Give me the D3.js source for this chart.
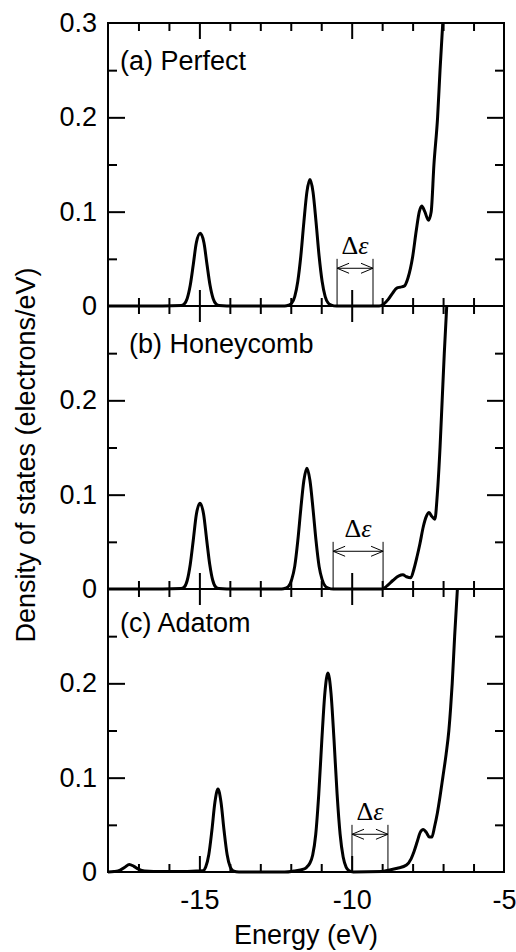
<!DOCTYPE html>
<html><head><meta charset="utf-8">
<script src="https://cdn.jsdelivr.net/npm/d3@7"></script>
<style>html,body{margin:0;padding:0;background:#fff}</style>
</head><body>
<script>
// ---- data (energy eV, DOS electrons/eV) ----
const perfect = [
  [-18,0],[-16.2,0],[-15.6,0.0005],[-15.5,0.002],[-15.4,0.008],[-15.3,0.022],[-15.2,0.044],[-15.1,0.067],[-14.97,0.077],[-14.85,0.067],[-14.75,0.044],[-14.65,0.022],[-14.55,0.008],[-14.45,0.002],[-14.35,0.0005],[-14.1,0],
  [-12.2,0],[-12.07,0.001],[-11.97,0.003],[-11.87,0.010],[-11.77,0.026],[-11.67,0.053],[-11.57,0.089],[-11.47,0.121],[-11.37,0.134],[-11.27,0.121],[-11.17,0.089],[-11.07,0.053],[-10.97,0.026],[-10.87,0.010],[-10.77,0.003],[-10.67,0.001],[-10.5,0],
  [-9.1,0],[-8.95,0.002],[-8.8,0.007],[-8.65,0.014],[-8.52,0.019],[-8.4,0.020],[-8.28,0.021],[-8.15,0.030],[-8.0,0.052],[-7.88,0.080],[-7.78,0.100],[-7.70,0.106],[-7.6,0.100],[-7.48,0.091],[-7.39,0.100],[-7.30,0.150],[-7.18,0.200],[-7.10,0.250],[-7.01,0.300]
];
const honeycomb = [
  [-18,0],[-16.2,0],[-15.6,0.0005],[-15.5,0.002],[-15.4,0.009],[-15.3,0.026],[-15.2,0.052],[-15.1,0.079],[-14.98,0.091],[-14.86,0.079],[-14.76,0.052],[-14.66,0.026],[-14.56,0.009],[-14.46,0.002],[-14.36,0.0005],[-14.1,0],
  [-12.3,0],[-12.17,0.001],[-12.07,0.003],[-11.97,0.010],[-11.87,0.024],[-11.77,0.051],[-11.67,0.085],[-11.57,0.115],[-11.47,0.128],[-11.37,0.115],[-11.27,0.085],[-11.17,0.051],[-11.07,0.024],[-10.97,0.010],[-10.87,0.003],[-10.77,0.001],[-10.6,0],
  [-9.0,0],[-8.85,0.003],[-8.65,0.009],[-8.45,0.014],[-8.32,0.015],[-8.2,0.013],[-8.06,0.012],[-7.95,0.022],[-7.85,0.035],[-7.76,0.048],[-7.65,0.066],[-7.55,0.077],[-7.46,0.081],[-7.37,0.077],[-7.27,0.074],[-7.19,0.100],[-7.10,0.150],[-7.03,0.200],[-6.96,0.250],[-6.88,0.300]
];
const adatom = [
  [-18,0],[-17.8,0.0005],[-17.6,0.002],[-17.45,0.005],[-17.3,0.008],[-17.15,0.006],[-17.0,0.003],[-16.8,0.001],[-16.5,0.0005],[-15.5,0.0005],[-15.1,0.001],[-14.89,0.0012],[-14.79,0.0055],[-14.69,0.0186],[-14.59,0.044],[-14.49,0.074],[-14.39,0.088],[-14.29,0.074],[-14.19,0.044],[-14.09,0.0186],[-13.99,0.0055],[-13.89,0.0012],[-13.7,0],
  [-12.2,0],[-11.9,0.001],[-11.58,0.003],[-11.48,0.005],[-11.38,0.009],[-11.28,0.018],[-11.18,0.040],[-11.08,0.083],[-10.98,0.140],[-10.88,0.190],[-10.78,0.211],[-10.68,0.190],[-10.58,0.140],[-10.48,0.083],[-10.38,0.040],[-10.28,0.016],[-10.18,0.005],[-10.08,0.0013],[-9.95,0],
  [-9.0,0.0005],[-8.8,0.002],[-8.5,0.004],[-8.2,0.0075],[-8.05,0.014],[-7.95,0.022],[-7.85,0.032],[-7.75,0.042],[-7.65,0.045],[-7.55,0.042],[-7.45,0.037],[-7.37,0.037],[-7.28,0.048],[-7.19,0.062],[-7.10,0.080],[-7.01,0.100],[-6.90,0.125],[-6.81,0.150],[-6.75,0.175],[-6.70,0.200],[-6.62,0.250],[-6.53,0.300]
];
const panelSeries = [perfect, honeycomb, adatom];
const panelNames = ["(a) Perfect", "(b) Honeycomb", "(c) Adatom"];
const gapEdges = [[-10.48, -9.30], [-10.61, -8.97], [-9.99, -8.81]];
const xMajorTicks = [-15, -10];
const xMinorTicks = [-17, -16, -14, -13, -12, -11, -9, -8, -7, -6];
const xTickLabels = [-15, -10, -5];
const yMajorTicks = [0.1, 0.2];
const yMinorTicks = [0.05, 0.15, 0.25];
const yTickLabelsTop = [0, 0.1, 0.2, 0.3];
const yTickLabelsOther = [0, 0.1, 0.2];

// ---- layout ----
const W = 516, H = 952;
const left = 108, right = 504, top0 = 23, ph = 283;
const labelX = [120, 129, 120], labelDy = [47, 47, 43];
const SANS = "'Liberation Sans', Arial, Helvetica, sans-serif";
const FS = 27;

const svg = d3.select("body").append("svg").attr("width", W).attr("height", H);
const x = d3.scaleLinear().domain([-18, -5]).range([left, right]);
const yFmt = d => d === 0 ? "0" : d.toFixed(1);

function ticksOnly(sel) {
  sel.select(".domain").remove();
  sel.selectAll("text").remove();
  sel.selectAll("line").attr("stroke", "#000").attr("stroke-width", 2);
}
function labelsOnly(sel) {
  sel.select(".domain").remove();
  sel.selectAll("line").remove();
  sel.attr("font-family", SANS).attr("font-size", FS);
  sel.selectAll("text").attr("fill", "#000");
}

panelSeries.forEach((data, i) => {
  const top = top0 + i * ph, bot = top + ph;
  const y = d3.scaleLinear().domain([0, 0.3]).range([bot, top]);
  const g = svg.append("g");

  g.append("clipPath").attr("id", "clip" + i)
    .append("rect").attr("x", left).attr("y", top).attr("width", right - left).attr("height", ph + 6);

  // axes ticks (inward)
  g.append("g").attr("transform", `translate(0,${bot})`)
    .call(d3.axisBottom(x).tickValues(xMinorTicks).tickSizeInner(-8).tickSizeOuter(0)).call(ticksOnly);
  g.append("g").attr("transform", `translate(0,${bot})`)
    .call(d3.axisBottom(x).tickValues(xMajorTicks).tickSizeInner(-16).tickSizeOuter(0)).call(ticksOnly);
  g.append("g").attr("transform", `translate(0,${top})`)
    .call(d3.axisTop(x).tickValues(xMinorTicks).tickSizeInner(-8).tickSizeOuter(0)).call(ticksOnly);
  g.append("g").attr("transform", `translate(0,${top})`)
    .call(d3.axisTop(x).tickValues(xMajorTicks).tickSizeInner(-16).tickSizeOuter(0)).call(ticksOnly);
  g.append("g").attr("transform", `translate(${left},0)`)
    .call(d3.axisLeft(y).tickValues(yMinorTicks).tickSizeInner(-9).tickSizeOuter(0)).call(ticksOnly);
  g.append("g").attr("transform", `translate(${left},0)`)
    .call(d3.axisLeft(y).tickValues(yMajorTicks).tickSizeInner(-17).tickSizeOuter(0)).call(ticksOnly);
  g.append("g").attr("transform", `translate(${right},0)`)
    .call(d3.axisRight(y).tickValues(yMinorTicks).tickSizeInner(-9).tickSizeOuter(0)).call(ticksOnly);
  g.append("g").attr("transform", `translate(${right},0)`)
    .call(d3.axisRight(y).tickValues(yMajorTicks).tickSizeInner(-17).tickSizeOuter(0)).call(ticksOnly);

  // y tick labels
  g.append("g").attr("transform", `translate(${left},0)`)
    .call(d3.axisLeft(y).tickValues(i === 0 ? yTickLabelsTop : yTickLabelsOther).tickSize(0).tickPadding(11).tickFormat(yFmt))
    .call(labelsOnly);

  // frame
  g.append("rect").attr("x", left).attr("y", top).attr("width", right - left).attr("height", ph)
    .attr("fill", "none").attr("stroke", "#000").attr("stroke-width", 2);

  // DOS curve
  g.append("path").datum(data)
    .attr("d", d3.line().x(d => x(d[0])).y(d => y(d[1])).curve(d3.curveMonotoneX))
    .attr("fill", "none").attr("stroke", "#000").attr("stroke-width", 3)
    .attr("stroke-linejoin", "round").attr("clip-path", `url(#clip${i})`);

  // gap annotation
  const [e1, e2] = gapEdges[i];
  const x1 = x(e1), x2 = x(e2), ya = y(0.04);
  const ann = g.append("g").attr("stroke", "#000").attr("stroke-width", 1).attr("fill", "none");
  [x1, x2].forEach(xx => ann.append("line").attr("x1", xx).attr("x2", xx).attr("y1", y(0)).attr("y2", y(0.05)));
  ann.append("line").attr("x1", x1).attr("x2", x2).attr("y1", ya).attr("y2", ya);
  ann.append("path").attr("d", `M${x1 + 12},${ya - 5}L${x1},${ya}L${x1 + 12},${ya + 5}`);
  ann.append("path").attr("d", `M${x2 - 12},${ya - 5}L${x2},${ya}L${x2 - 12},${ya + 5}`);
  const t = g.append("text").attr("x", (x1 + x2) / 2).attr("y", y(0.055))
    .attr("text-anchor", "middle").attr("font-family", "'Liberation Serif', 'Times New Roman', serif")
    .attr("font-size", 26).attr("fill", "#000");
  t.append("tspan").text("Δ");
  t.append("tspan").attr("font-style", "italic").text("ε");

  // panel label
  g.append("text").attr("x", labelX[i]).attr("y", top + labelDy[i])
    .attr("font-family", SANS).attr("font-size", FS).attr("fill", "#000").text(panelNames[i]);

  if (i === 2) {
    g.append("g").attr("transform", `translate(0,${bot})`)
      .call(d3.axisBottom(x).tickValues(xTickLabels).tickSize(0).tickPadding(18).tickFormat(d => String(d)))
      .call(labelsOnly);
  }
});

// axis titles
svg.append("text").attr("x", (left + right) / 2).attr("y", 944).attr("text-anchor", "middle")
  .attr("font-family", SANS).attr("font-size", FS).attr("fill", "#000").text("Energy (eV)");
svg.append("text").attr("transform", `translate(35,455) rotate(-90)`).attr("text-anchor", "middle")
  .attr("font-family", SANS).attr("font-size", FS).attr("fill", "#000").text("Density of states (electrons/eV)");
</script>
</body></html>
